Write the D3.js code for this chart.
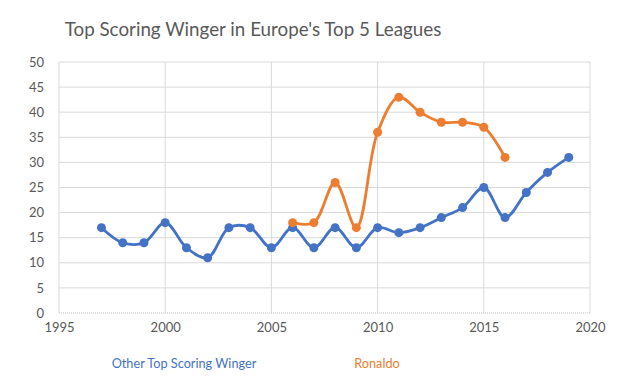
<!DOCTYPE html>
<html>
<head>
<meta charset="utf-8">
<script src="https://cdn.jsdelivr.net/npm/d3@7"></script>
<style>
  body { margin: 0; background: #fff; }
  text { font-family: Lato, "Open Sans", sans-serif; }
</style>
</head>
<body>
<div id="chart"></div>
<script>
// Data
const otherYears = [1997, 1998, 1999, 2000, 2001, 2002, 2003, 2004, 2005, 2006, 2007, 2008, 2009, 2010, 2011, 2012, 2013, 2014, 2015, 2016, 2017, 2018, 2019];
const otherGoals = [17, 14, 14, 18, 13, 11, 17, 17, 13, 17, 13, 17, 13, 17, 16, 17, 19, 21, 25, 19, 24, 28, 31];
const ronaldoYears = [2006, 2007, 2008, 2009, 2010, 2011, 2012, 2013, 2014, 2015, 2016];
const ronaldoGoals = [18, 18, 26, 17, 36, 43, 40, 38, 38, 37, 31];
const xTicks = [1995, 2000, 2005, 2010, 2015, 2020];
const yTicks = [0, 5, 10, 15, 20, 25, 30, 35, 40, 45, 50];

const width = 623;
const height = 388;
const margin = { left: 59, right: 33, top: 62, bottom: 75 };

const svg = d3.select("#chart").append("svg")
    .attr("width", width)
    .attr("height", height);

const x = d3.scaleLinear().domain([1995, 2020]).range([margin.left, width - margin.right]);
const y = d3.scaleLinear().domain([0, 50]).range([height - margin.bottom, margin.top]);

// Title
svg.append("text")
    .attr("x", 253)
    .attr("y", 36)
    .attr("text-anchor", "middle")
    .attr("fill", "#595959")
    .style("font-size", "18.8px")
    .text("Top Scoring Winger in Europe's Top 5 Leagues");

// Gridlines
svg.append("g").selectAll("line")
    .data(yTicks.filter(d => d > 0))
    .enter().append("line")
    .attr("x1", x(1995)).attr("x2", x(2020))
    .attr("y1", d => y(d)).attr("y2", d => y(d))
    .attr("stroke", "#d9d9d9");

svg.append("g").selectAll("line")
    .data(xTicks)
    .enter().append("line")
    .attr("x1", d => x(d)).attr("x2", d => x(d))
    .attr("y1", y(0)).attr("y2", y(50))
    .attr("stroke", "#d9d9d9");

// Baseline (dotted)
svg.append("line")
    .attr("x1", x(1995)).attr("x2", x(2020))
    .attr("y1", y(0)).attr("y2", y(0))
    .attr("stroke", "#bfbfbf")
    .attr("stroke-dasharray", "1,1");

// Axis labels
const yAxis = d3.axisLeft(y).tickValues(yTicks).tickSize(0).tickPadding(15);
svg.append("g")
    .attr("transform", `translate(${margin.left},0)`)
    .call(yAxis)
    .call(g => g.select(".domain").remove())
    .call(g => g.selectAll("text").attr("fill", "#595959").style("font-size", "13px"));

const xAxis = d3.axisBottom(x).tickValues(xTicks).tickFormat(d3.format("d")).tickSize(0).tickPadding(10);
svg.append("g")
    .attr("transform", `translate(0,${y(0)})`)
    .call(xAxis)
    .call(g => g.select(".domain").remove())
    .call(g => g.selectAll("text").attr("fill", "#595959").style("font-size", "13px"));

// Lines
const line = d3.line()
    .x(d => x(d[0]))
    .y(d => y(d[1]))
    .curve(d3.curveCatmullRom.alpha(0.5));

function drawSeries(years, goals, color) {
    const pts = years.map((yr, i) => [yr, goals[i]]);
    svg.append("path")
        .datum(pts)
        .attr("fill", "none")
        .attr("stroke", color)
        .attr("stroke-width", 2.8)
        .attr("d", line);
    svg.append("g").selectAll("circle")
        .data(pts)
        .enter().append("circle")
        .attr("cx", d => x(d[0]))
        .attr("cy", d => y(d[1]))
        .attr("r", 4.5)
        .attr("fill", color);
}

drawSeries(otherYears, otherGoals, "#4472c4");
drawSeries(ronaldoYears, ronaldoGoals, "#ed7d31");

// Legend (text only)
svg.append("text")
    .attr("x", 184).attr("y", 368)
    .attr("text-anchor", "middle")
    .attr("fill", "#4472c4")
    .style("font-size", "12.7px")
    .text("Other Top Scoring Winger");

svg.append("text")
    .attr("x", 377).attr("y", 368)
    .attr("text-anchor", "middle")
    .attr("fill", "#ed7d31")
    .style("font-size", "12.7px")
    .text("Ronaldo");
</script>
</body>
</html>
